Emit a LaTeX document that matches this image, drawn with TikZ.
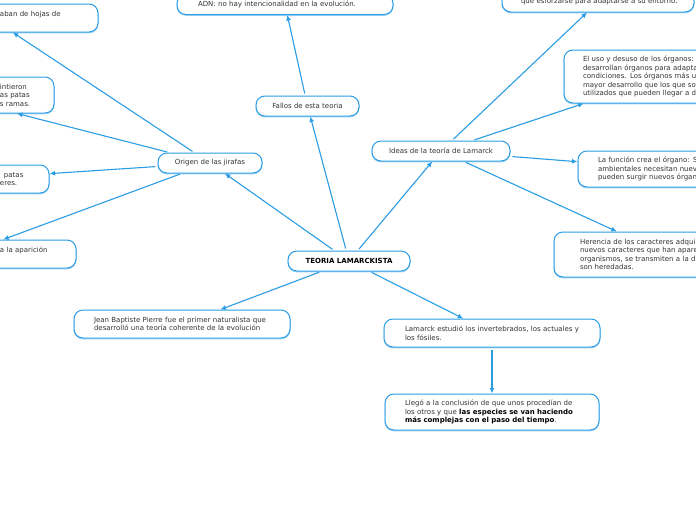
\documentclass[tikz,border=0pt]{standalone}
\usepackage{fontspec}
\setmainfont{DejaVu Sans}
\usetikzlibrary{arrows.meta}
\definecolor{mmblue}{HTML}{2A9DE4}
\definecolor{mmtext}{HTML}{333333}
\tikzset{
  box/.style={draw=mmblue, line width=1pt, rounded corners=9pt, fill=white,
    inner ysep=2pt, font=\fontsize{7}{8.5}\selectfont, text=mmtext,
    preaction={draw=mmblue!45, line width=1pt, transform canvas={yshift=-0.9pt}}},
  cbox/.style={box, align=center},
  tbox/.style 2 args={box, align=left, minimum width=#1, text width=#1-2*#2, inner xsep=#2},
  conn/.style={draw=mmblue, line width=1.1pt, shorten <=2pt,
    -{Latex[length=5.5pt,width=5pt]}}
}
\newcommand{\hs}[1]{\hspace*{#1pt}}
\begin{document}
\begin{tikzpicture}[x=1pt,y=-1pt]
\useasboundingbox (0,0) rectangle (696,520);
\fill[white] (0,0) rectangle (696,520);

% centre
\node[cbox, minimum width=122, minimum height=20, text=black, font=\fontsize{7}{8.5}\selectfont\bfseries] (teoria) at (349,261) {TEORIA LAMARCKISTA};
\node[cbox, minimum width=104, minimum height=20] (origen) at (210,163) {Origen de las jirafas};
\node[cbox, minimum width=103, minimum height=20] (fallos) at (307.5,106) {Fallos de esta teoria};
\node[cbox, minimum width=138, minimum height=20] (ideas) at (441,151) {Ideas de la teoría de Lamarck};

% top
\node[tbox={216}{21}, minimum height=20] (adn) at (285,4.5) {\mbox{ADN: no hay intencionalidad en la evolución.}};
\node[tbox={192}{19}, minimum height=20] (esf) at (598,2) {\mbox{que esforzarse para adaptarse a su entorno.}};

% right
\node[tbox={201}{19}, minimum height=53] (uso) at (664.5,76.5) {El uso y desuso de los órganos:\\desarrollan órganos para adapta\\condiciones. Los órganos más ut\\mayor desarrollo que los que so\\utilizados que pueden llegar a d};
\node[tbox={186}{20}, minimum height=36] (funcion) at (671,169) {La función crea el órgano: S\\ambientales necesitan nuev\\pueden surgir nuevos órgan};
\node[tbox={226}{26}, minimum height=45] (herencia) at (667,254.5) {Herencia de los caracteres adquir\\nuevos caracteres que han apare\\organismos, se transmiten a la de\\son heredadas.};

% bottom
\node[tbox={216}{20}, minimum height=28] (jean) at (182,324) {\mbox{Jean Baptiste Pierre fue el primer naturalista que}\\desarrolló una teoría coherente de la evolución};
\node[tbox={216}{21}, minimum height=28] (estudio) at (492,333) {\mbox{Lamarck estudió los invertebrados, los actuales y}\\los fósiles.};
\node[tbox={214}{20}, minimum height=36] (llego) at (492,412) {Llegó a la conclusión de que unos procedían de\\los otros y que \textbf{\color{black}las especies se van haciendo}\\\textbf{\color{black}más complejas con el paso del tiempo}.};

% left (cut by the edge)
\node[tbox={214}{20}, minimum height=28] (hojas) at (-9,18) {\hs{96}aban de hojas de\\\mbox{}};
\node[tbox={218}{20}, minimum height=36] (intieron) at (-55,95) {\hs{144}intieron\\\hs{144}as patas\\\hs{144}s ramas.};
\node[tbox={162}{20}, minimum height=28] (patas) at (-32,179) {\hs{97}patas\\\hs{93}eres.};
\node[tbox={224}{20}, minimum height=28] (aparicion) at (-36,254) {\hs{128}a la aparición\\\mbox{}};

% connectors
\draw[conn] (teoria) -- (origen);
\draw[conn] (teoria) -- (fallos);
\draw[conn] (teoria) -- (ideas);
\draw[conn] (teoria) -- (jean);
\draw[conn] (teoria) -- (estudio);
\draw[conn] (estudio) -- (llego);
\draw[conn] (fallos) -- (adn);
\draw[conn] (ideas) -- (esf);
\draw[conn] (ideas) -- (uso);
\draw[conn] (ideas) -- (funcion);
\draw[conn] (ideas) -- (herencia);
\draw[conn] (origen) -- (hojas);
\draw[conn] (origen) -- (intieron);
\draw[conn] (origen) -- (patas);
\draw[conn] (origen) -- (aparicion);
\end{tikzpicture}
\end{document}
